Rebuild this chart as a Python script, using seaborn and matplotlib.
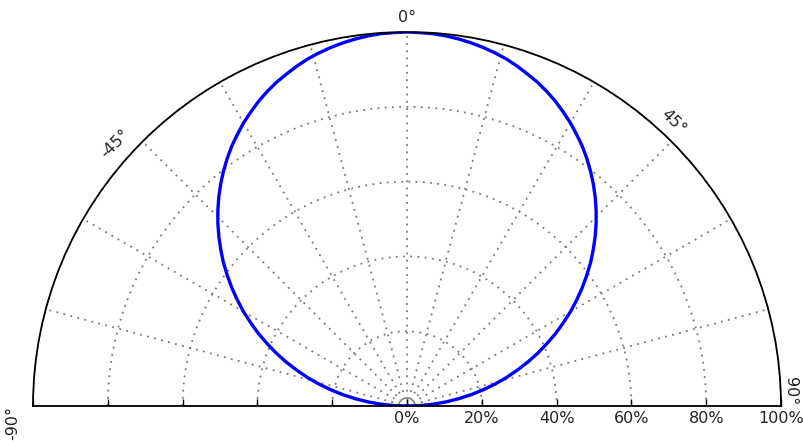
import numpy as np
import pandas as pd
import matplotlib
matplotlib.use('Agg')
import matplotlib.pyplot as plt
import seaborn as sns

# pattern: angle in degrees, relative level in %
angle_deg = list(range(-90, 91, 2))
level_pct = [0.0, 3.5, 7.0, 10.5, 13.9, 17.4, 20.8, 24.3, 27.7, 31.0,
             34.4, 37.7, 40.9, 44.2, 47.3, 50.5, 53.5, 56.5, 59.4, 62.3,
             65.0, 67.7, 70.3, 72.8, 75.2, 77.5, 79.7, 81.8, 83.8, 85.6,
             87.4, 89.0, 90.6, 92.0, 93.3, 94.4, 95.5, 96.5, 97.3, 98.0,
             98.6, 99.1, 99.5, 99.8, 99.9, 100.0,
             99.9, 99.8, 99.5, 99.1, 98.6, 98.0, 97.3, 96.5, 95.5, 94.4,
             93.3, 92.0, 90.6, 89.0, 87.4, 85.6, 83.8, 81.8, 79.7, 77.5,
             75.2, 72.8, 70.3, 67.7, 65.0, 62.3, 59.4, 56.5, 53.5, 50.5,
             47.3, 44.2, 40.9, 37.7, 34.4, 31.0, 27.7, 24.3, 20.8, 17.4,
             13.9, 10.5, 7.0, 3.5, 0.0]

theta_ticks = [-90, -75, -60, -45, -30, -15, 0, 15, 30, 45, 60, 75, 90]
theta_labelled = [-90, -45, 0, 45, 90]
r_ticks = [0, 20, 40, 60, 80, 100]

# where each angle label sits relative to its tick (pixels) and its rotation
label_style = {-90: ((-20, -17), 90), -45: ((-27, -2), 45), 0: ((0, 15), 0),
               45: ((2, 20), -45), 90: ((10, 15), -90)}

df = pd.DataFrame({'theta': np.deg2rad(angle_deg),
                   'r': np.array(level_pct) / 100.0})

sns.set_style('white')
plt.rcParams['font.family'] = ['DejaVu Sans']

fig = plt.figure(figsize=(8.04, 4.42), dpi=100)
# square box: the half disc is fitted into it and centred vertically
ax = fig.add_axes([33 / 804, -151 / 442, 748 / 804, 748 / 442], projection='polar')
ax.set_theta_zero_location('N')
ax.set_theta_direction(-1)
ax.set_thetamin(-90)
ax.set_thetamax(90)

sns.lineplot(data=df, x='theta', y='r', sort=False, ax=ax,
             color='#0000ff', linewidth=2.4, legend=False)

ax.set_ylim(0, 1)
ax.set_xticks(np.deg2rad(theta_ticks))
ax.set_xticklabels([])
ax.set_yticks(np.array(r_ticks) / 100.0)
ax.set_yticklabels([f'{v}%' for v in r_ticks])
ax.set_xlabel('')
ax.set_ylabel('')

for t in theta_labelled:
    offset, rot = label_style[t]
    ax.annotate(f'{t}°', xy=(np.deg2rad(t), 1.0), xytext=offset,
                textcoords='offset pixels', ha='center', va='center',
                rotation=rot, rotation_mode='anchor', fontsize=11.5,
                color='#222222', annotation_clip=False)

ax.grid(True, linestyle=(0, (1, 3)), color='#777777', linewidth=1.3)
ax.tick_params(axis='x', direction='in', length=5, width=1, color='black')
ax.tick_params(axis='y', left=True, right=True, labelleft=False, labelright=True,
               direction='in', length=5, width=1, color='black',
               labelsize=11.5, labelcolor='#222222')
for sp in ax.spines.values():
    sp.set_color('black')
    sp.set_linewidth(1.3)

fig.savefig('out.png', dpi=100)
